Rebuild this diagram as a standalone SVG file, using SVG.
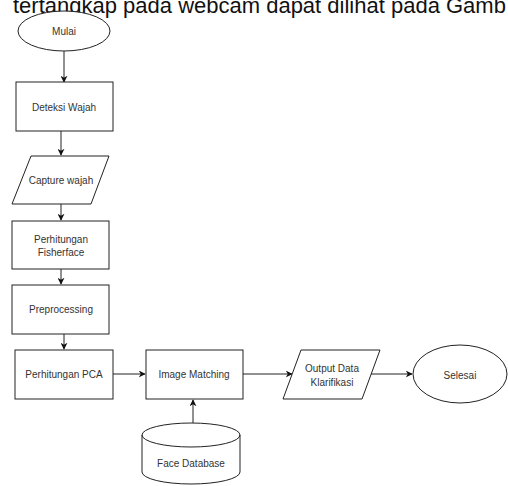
<svg xmlns="http://www.w3.org/2000/svg" width="508" height="486" viewBox="0 0 508 486">
<defs>
<style>
.s{fill:#fff;stroke:#222;stroke-width:1}
.t{font-family:"Liberation Sans",Arial,sans-serif;font-size:10px;fill:#333;text-anchor:middle;dominant-baseline:central}
.c{fill:none;stroke:#222;stroke-width:1}
.hd{font-family:"Liberation Sans",Arial,sans-serif;font-size:22px;fill:#111}
</style>
<marker id="a" viewBox="0 0 10 10" refX="9" refY="5" markerWidth="7" markerHeight="7" orient="auto" markerUnits="userSpaceOnUse">
<path d="M0,0 L10,5 L0,10 L3,5 Z" fill="#111"/>
</marker>
</defs>
<rect width="508" height="486" fill="#fff"/>
<text class="hd" x="13" y="13">tertangkap pada webcam dapat dilihat pada Gamb</text>
<g id="connectors">
<path class="c" d="M64,51 V82" marker-end="url(#a)"/>
<path class="c" d="M61,131 V155" marker-end="url(#a)"/>
<path class="c" d="M61,204 V220" marker-end="url(#a)"/>
<path class="c" d="M61,269 V284" marker-end="url(#a)"/>
<path class="c" d="M64,334 V349" marker-end="url(#a)"/>
<path class="c" d="M113,374 H145" marker-end="url(#a)"/>
<path class="c" d="M243,374 H292" marker-end="url(#a)"/>
<path class="c" d="M371,374 H412" marker-end="url(#a)"/>
<path class="c" d="M193,423 V400" marker-end="url(#a)"/>
</g>
<g id="mulai">
<ellipse class="s" cx="64" cy="31" rx="46" ry="20"/>
<text class="t" x="64" y="31">Mulai</text>
</g>
<g id="deteksi">
<rect class="s" x="16" y="82" width="97" height="49"/>
<text class="t" x="64" y="107">Deteksi Wajah</text>
</g>
<g id="capture">
<path class="s" d="M31,156 H109 L91,204 H12 Z"/>
<text class="t" x="61" y="180">Capture wajah</text>
</g>
<g id="fisherface">
<rect class="s" x="12" y="221" width="97" height="48"/>
<text class="t" x="61" y="239">Perhitungan</text>
<text class="t" x="61" y="252">Fisherface</text>
</g>
<g id="preprocessing">
<rect class="s" x="12" y="285" width="97" height="49"/>
<text class="t" x="61" y="309">Preprocessing</text>
</g>
<g id="pca">
<rect class="s" x="15" y="350" width="98" height="49"/>
<text class="t" x="64" y="374">Perhitungan PCA</text>
</g>
<g id="matching">
<rect class="s" x="146" y="350" width="97" height="49"/>
<text class="t" x="194" y="374">Image Matching</text>
</g>
<g id="output">
<path class="s" d="M301,350 H380 L362,399 H283 Z"/>
<text class="t" x="332" y="368">Output Data</text>
<text class="t" x="332" y="382">Klarifikasi</text>
</g>
<g id="selesai">
<ellipse class="s" cx="460" cy="374" rx="47" ry="29"/>
<text class="t" x="460" y="375">Selesai</text>
</g>
<g id="database">
<path class="s" d="M142,435 A49,12 0 0 1 240,435 V472 A49,12 0 0 1 142,472 Z"/>
<path class="c" d="M142,435 A49,12 0 0 0 240,435"/>
<text class="t" x="191" y="463">Face Database</text>
</g>
</svg>
